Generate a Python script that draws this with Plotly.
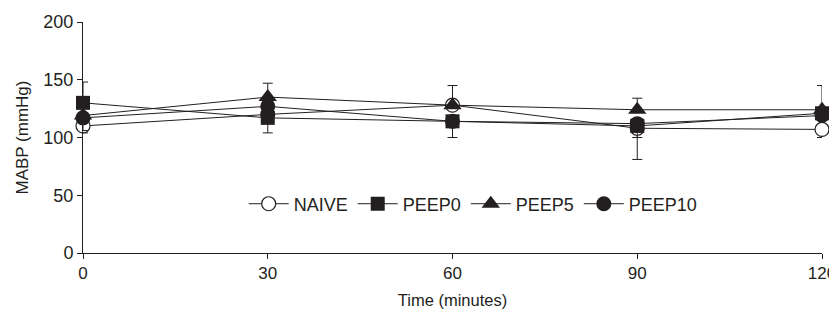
import plotly.graph_objects as go

time_min = [0, 30, 60, 90, 120]

naive = [110, 120, 128, 108, 107]
peep0 = [130, 117, 114, 110, 121]
peep5 = [119, 135, 128, 124, 124]
peep10 = [117, 127, 114, 112, 119]

naive_err_plus = [0, 0, 17, 0, 0]
naive_err_minus = [6, 0, 0, 27, 7]
peep0_err_plus = [18, 0, 0, 0, 24]
peep0_err_minus = [0, 13, 0, 10, 0]
peep5_err_plus = [0, 12, 0, 10, 0]
peep5_err_minus = [0, 0, 0, 0, 0]
peep10_err_plus = [0, 0, 0, 0, 0]
peep10_err_minus = [11, 0, 14, 0, 0]

series = [
    ("NAIVE", naive, naive_err_plus, naive_err_minus, "circle-open", 14),
    ("PEEP0", peep0, peep0_err_plus, peep0_err_minus, "square", 14),
    ("PEEP5", peep5, peep5_err_plus, peep5_err_minus, "triangle-up", 16),
    ("PEEP10", peep10, peep10_err_plus, peep10_err_minus, "circle", 15),
]

ink = "#231f20"
fig = go.Figure()
for name, vals, ep, em, sym, size in series:
    if sym == "circle-open":
        marker = dict(symbol="circle", size=size, color="white",
                      line=dict(color=ink, width=1.2))
    else:
        marker = dict(symbol=sym, size=size, color=ink,
                      line=dict(color=ink, width=0))
    fig.add_trace(go.Scatter(
        x=time_min, y=vals, name=name, mode="lines+markers",
        line=dict(color=ink, width=1),
        marker=marker, cliponaxis=False,
        error_y=dict(type="data", symmetric=False, array=ep, arrayminus=em,
                     color=ink, thickness=1, width=5),
    ))

# the page body adds an 8px margin on every side, so the figure is sized to fit inside it
fig.update_layout(
    width=829, height=307,
    margin=dict(l=75, r=15, t=14, b=62, autoexpand=False),
    plot_bgcolor="white", paper_bgcolor="white",
    font=dict(family="Liberation Sans, Arial, sans-serif", size=17, color=ink),
    showlegend=True,
    legend=dict(orientation="h", x=0.528, y=0.212, xanchor="center", yanchor="middle",
                bgcolor="rgba(0,0,0,0)", font=dict(size=18),
                itemwidth=40, tracegroupgap=0),
)
fig.update_xaxes(
    range=[0, 120], tickvals=[0, 30, 60, 90, 120],
    showline=True, linecolor=ink, linewidth=1,
    ticks="outside", ticklen=5, tickcolor=ink,
    showgrid=False, zeroline=False, automargin=False,
    ticklabeloverflow="allow",
    title=dict(text="Time (minutes)", font=dict(size=16.5), standoff=12),
    tickfont=dict(size=17),
)
fig.update_yaxes(
    range=[0, 200], tickvals=[0, 50, 100, 150, 200],
    showline=True, linecolor=ink, linewidth=1,
    ticks="outside", ticklen=5, tickcolor=ink,
    showgrid=False, zeroline=False, automargin=False,
    ticklabeloverflow="allow",
    title=dict(text="MABP (mmHg)", font=dict(size=17), standoff=10),
    tickfont=dict(size=18),
)

fig.write_html("out.html")
